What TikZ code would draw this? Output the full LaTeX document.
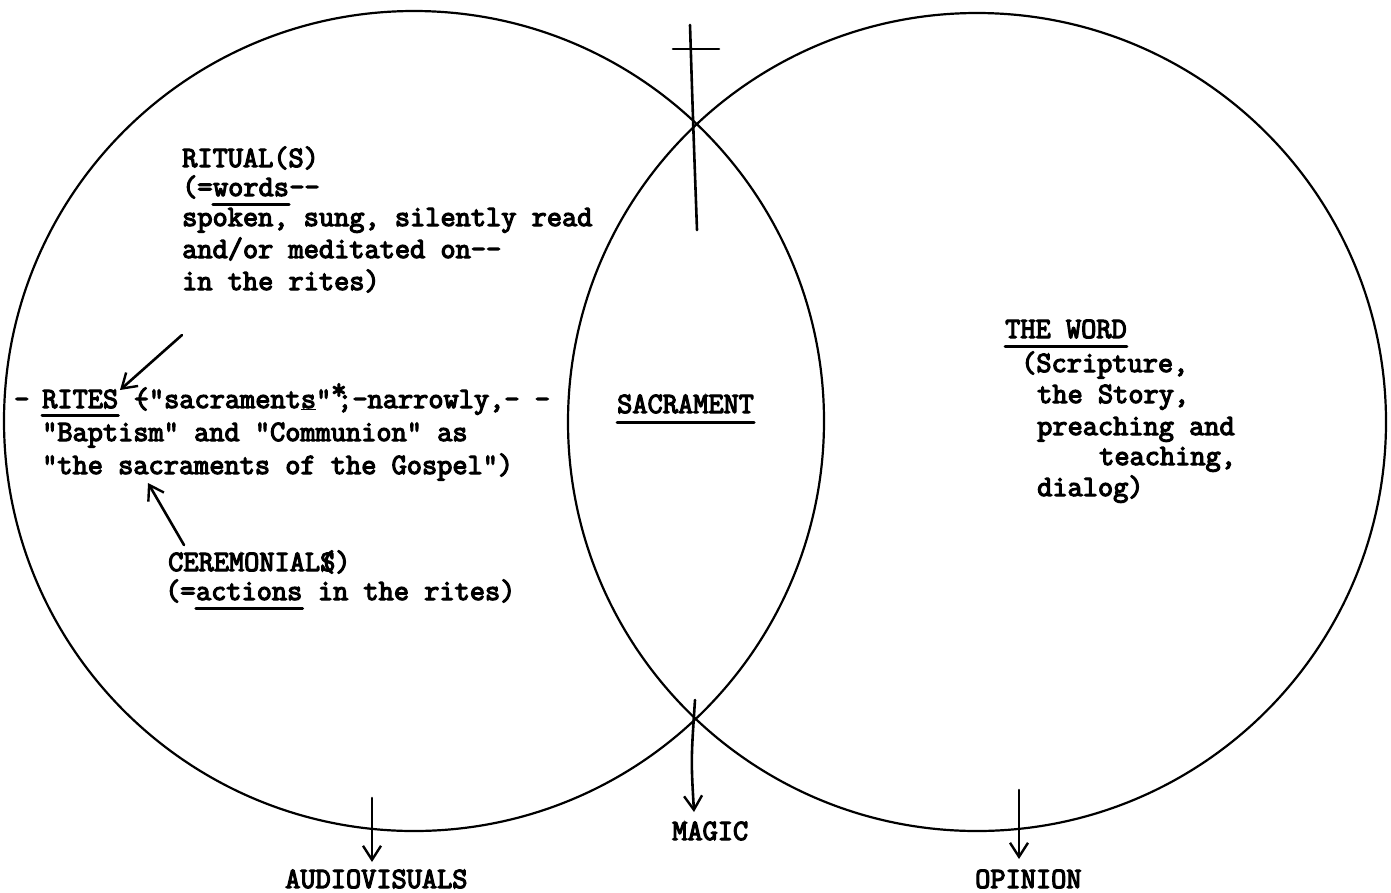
\documentclass[tikz,border=0pt]{standalone}
\usepackage{fontspec}
\setmonofont{Latin Modern Mono}[FakeBold=4]
\usetikzlibrary{arrows.meta}
\tikzset{
  txt/.style={anchor=base west, inner sep=0pt, font=\ttfamily\fontsize{29.5}{32}\selectfont},
  ring/.style={circle, draw, line width=2.2pt, inner sep=0pt},
  pen/.style={line width=2.6pt, line cap=round},
  arr/.style={pen, -{Straight Barb[length=14pt,width=18pt,line width=2.4pt]}},
  ul/.style={line width=3pt, line cap=round}
}
\begin{document}
\begin{tikzpicture}[x=1pt,y=-1pt]
\useasboundingbox (0,0) rectangle (1391,892);
% circles
\node[ring, minimum size=820pt] (L) at (414,421) {};
\node[ring, minimum size=818pt] (R) at (977,422) {};
% cross at top intersection
\coordinate (ct) at (690,25);
\coordinate (cb) at (697,230);
\coordinate (bl) at (673,49);
\coordinate (br) at (719,49);
\draw[pen] (ct) .. controls (693,120) .. (cb);
\draw[pen] (bl) -- (br);
% RITUAL block
\node[txt] (rit1) at (182,167) {RITUAL(S)};
\node[txt] (rit2a) at (182,196) {(=};
\node[txt] (words) at (rit2a.base east) {words};
\node[txt] (rit2b) at (words.base east) {-{}-};
\node[txt] (rit3) at (182,226) {spoken, sung, silently read};
\node[txt] (rit4) at (182,258) {and/or meditated on-{}-};
\node[txt] (rit5) at (182,290) {in the rites)};
\draw[ul] ([yshift=-8pt]words.base west) -- ([yshift=-8pt]words.base east);
% RITES block
\node[txt] (d1) at (14,408) {-};
\node[txt] (rites) at (42,408) {RITES};
\node[txt] (rites2) at (rites.base east) {\ \rlap{(}-"sacrament\underline{s}"\makebox[6pt][l]{\raisebox{9pt}{*}};-narrowly,-\ -};
\node[txt] (bap) at (42,441) {"Baptism" and "Communion" as};
\node[txt] (gos) at (42,474) {"the sacraments of the Gospel")};
\draw[ul] ([yshift=-7pt]rites.base west) -- ([yshift=-7pt]rites.base east);
% CEREMONIAL block
\node[txt] (cer1) at (168,571) {CEREMONIAL\rlap{(}S)};
\node[txt] (cer2a) at (165,600) {(=};
\node[txt] (actions) at (cer2a.base east) {actions};
\node[txt] (cer2b) at (actions.base east) {\ in the rites)};
\draw[ul] ([yshift=-8pt]actions.base west) -- ([yshift=-8pt]actions.base east);
% arrows to RITES
\coordinate (ra1) at (182,335);
\coordinate (ra2) at (120,390);
\draw[arr] (ra1) -- (ra2);
\coordinate (ca1) at (184,545);
\coordinate (ca2) at (148,483);
\draw[arr] (ca1) -- (ca2);
% SACRAMENT
\node[txt] (sacr) at (617,413) {SACRAMENT};
\draw[ul] ([yshift=-9pt]sacr.base west) -- ([yshift=-9pt]sacr.base east);
% THE WORD block
\node[txt] (tw) at (1005,338) {THE WORD};
\draw[ul] ([yshift=-8pt]tw.base west) -- ([yshift=-8pt]tw.base east);
\node[txt] (tw1) at (1021,372) {(Scripture,};
\node[txt] (tw2) at (1037,403) {the Story,};
\node[txt] (tw3) at (1037,435) {preaching and};
\node[txt] (tw4) at (1099,465) {teaching,};
\node[txt] (tw5) at (1037,496) {dialog)};
% bottom arrows and labels
\coordinate (m1) at (695,700);
\coordinate (m2) at (694,812);
\draw[arr] (m1) .. controls (691,760) .. (m2);
\node[txt] (magic) at (672,840) {MAGIC};
\coordinate (a1) at (372,798);
\coordinate (a2) at (372,862);
\draw[arr] (a1) -- (a2);
\node[txt] (av) at (285,888) {AUDIOVISUALS};
\coordinate (o1) at (1019,790);
\coordinate (o2) at (1019,859);
\draw[arr] (o1) -- (o2);
\node[txt] (op) at (975,888) {OPINION};
\end{tikzpicture}
\end{document}
